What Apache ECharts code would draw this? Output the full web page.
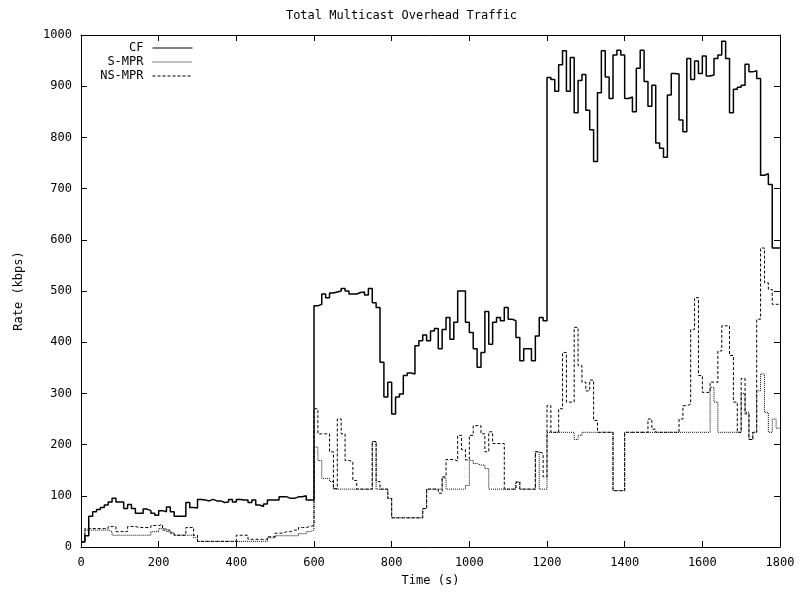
<!DOCTYPE html>
<html>
<head>
<meta charset="utf-8">
<script src="https://cdn.jsdelivr.net/npm/echarts@6/dist/echarts.min.js"></script>
<style>
  html, body { margin: 0; padding: 0; background: #fff; }
  #chart { width: 803px; height: 592px; }
</style>
</head>
<body>
<div id="chart"></div>
<script>
// Sampling interval of the traffic traces, in seconds
const sampleStep = 10;
const xTicks = [0, 200, 400, 600, 800, 1000, 1200, 1400, 1600, 1800];
const yTicks = [0, 100, 200, 300, 400, 500, 600, 700, 800, 900, 1000];

// Overhead rate (kbps) for each 10 s interval, 0..1790 s
const cfRate = [
  10, 22, 60, 69, 73, 77, 82, 88, 95, 88,
  88, 75, 83, 75, 66, 66, 74, 71, 66, 62,
  71, 69, 78, 69, 60, 60, 60, 87, 77, 76,
  93, 92, 90, 93, 90, 90, 87, 88, 93, 88,
  93, 92, 92, 87, 92, 82, 79, 84, 92, 92,
  92, 98, 98, 95, 95, 98, 98, 100, 92, 92,
  471, 474, 494, 487, 496, 498, 500, 505, 500, 494,
  494, 497, 498, 492, 505, 477, 468, 361, 293, 322,
  260, 293, 299, 335, 340, 338, 393, 403, 414, 403,
  422, 427, 387, 425, 448, 406, 439, 500, 500, 439,
  419, 387, 351, 380, 460, 396, 439, 448, 442, 468,
  445, 442, 409, 364, 387, 387, 364, 412, 448, 442,
  917, 913, 890, 942, 969, 890, 956, 848, 911, 923,
  853, 815, 753, 887, 969, 918, 876, 961, 970, 961,
  876, 879, 850, 935, 970, 909, 861, 902, 789, 779,
  761, 883, 925, 924, 834, 811, 954, 913, 949, 925,
  959, 920, 922, 954, 961, 988, 954, 848, 894, 898,
  902, 943, 928, 930, 915, 726, 729, 708, 584, 584
];

const smprRate = [
  10, 33, 33, 33, 33, 33, 33, 30, 23, 23,
  23, 23, 23, 23, 23, 23, 23, 23, 30, 30,
  36, 36, 30, 27, 23, 23, 23, 23, 23, 18,
  11, 11, 11, 11, 11, 11, 11, 11, 11, 11,
  11, 11, 11, 11, 11, 11, 11, 11, 18, 18,
  22, 22, 22, 22, 22, 22, 26, 26, 30, 33,
  195, 169, 134, 134, 128, 113, 113, 113, 113, 113,
  113, 113, 113, 113, 113, 206, 113, 113, 113, 95,
  57, 57, 57, 57, 57, 57, 57, 57, 75, 113,
  113, 113, 113, 135, 113, 113, 113, 113, 113, 120,
  169, 163, 160, 160, 153, 113, 113, 113, 113, 113,
  113, 113, 127, 113, 113, 113, 113, 186, 113, 113,
  224, 224, 224, 224, 224, 224, 224, 210, 218, 224,
  224, 224, 224, 224, 224, 224, 224, 110, 110, 110,
  224, 224, 224, 224, 224, 224, 224, 224, 224, 224,
  224, 224, 224, 224, 224, 224, 224, 224, 224, 224,
  224, 224, 312, 283, 224, 224, 224, 224, 224, 224,
  300, 263, 210, 224, 305, 338, 263, 224, 250, 232
];

const nsmprRate = [
  10, 36, 36, 36, 36, 36, 36, 40, 40, 30,
  30, 30, 40, 40, 38, 38, 38, 38, 42, 42,
  44, 33, 33, 27, 23, 23, 23, 38, 38, 23,
  11, 11, 11, 11, 11, 11, 11, 11, 11, 11,
  23, 23, 23, 15, 15, 15, 15, 15, 20, 20,
  27, 27, 30, 30, 33, 33, 38, 38, 40, 42,
  270, 221, 221, 221, 186, 114, 250, 221, 169, 167,
  130, 113, 113, 113, 113, 206, 128, 113, 113, 95,
  57, 57, 57, 57, 57, 57, 57, 57, 75, 113,
  113, 113, 105, 137, 171, 171, 168, 218, 190, 170,
  218, 237, 237, 221, 186, 225, 202, 202, 202, 113,
  113, 113, 127, 113, 113, 113, 113, 186, 183, 137,
  276, 224, 224, 270, 380, 283, 283, 429, 354, 322,
  305, 326, 247, 224, 224, 224, 224, 110, 110, 110,
  224, 224, 224, 224, 224, 224, 250, 230, 224, 224,
  224, 224, 224, 224, 250, 276, 279, 425, 487, 335,
  302, 302, 322, 322, 383, 432, 432, 374, 283, 224,
  329, 260, 210, 224, 445, 584, 516, 503, 474, 474
];

// Each value holds from its start time until the next sample; close the last interval at the end time
function toSteps(values) {
  const pts = values.map((v, i) => [i * sampleStep, v]);
  pts.push([values.length * sampleStep, values[values.length - 1]]);
  return pts;
}

const FONT = 'DejaVu Sans Mono';
const textStyle = { fontFamily: FONT, fontSize: 12, color: '#000' };
const plainNumber = v => String(v);

const xRange = { min: xTicks[0], max: xTicks[xTicks.length - 1], interval: xTicks[1] - xTicks[0] };
const yRange = { min: yTicks[0], max: yTicks[yTicks.length - 1], interval: yTicks[1] - yTicks[0] };

const chart = echarts.init(document.getElementById('chart'), null, { renderer: 'canvas' });

function axisCommon(extra) {
  return Object.assign({
    type: 'value',
    axisLine: { show: true, onZero: false, lineStyle: { color: '#000', width: 1 } },
    axisTick: { show: true, inside: true, length: 6, lineStyle: { color: '#000' } },
    splitLine: { show: false },
    axisLabel: Object.assign({}, textStyle)
  }, extra);
}

// One legend block per series so the line samples stay right-aligned
function legendFor(name, top) {
  return {
    data: [name],
    right: 803 - 193,
    top: top,
    align: 'right',
    orient: 'vertical',
    itemWidth: 40,
    itemHeight: 10,
    itemGap: 0,
    padding: 0,
    selectedMode: false,
    itemStyle: { opacity: 0 },
    lineStyle: { width: 1 },
    textStyle: Object.assign({}, textStyle, { padding: [0, 4, 0, 0] })
  };
}

chart.setOption({
  animation: false,
  backgroundColor: '#fff',
  title: {
    text: 'Total Multicast Overhead Traffic',
    left: 'center',
    top: 5,
    textStyle: Object.assign({}, textStyle, { fontWeight: 'normal' })
  },
  legend: [legendFor('CF', 42), legendFor('S-MPR', 56), legendFor('NS-MPR', 70)],
  grid: { left: 81, right: 23, top: 35, bottom: 45, containLabel: false },
  xAxis: [
    axisCommon(Object.assign({}, xRange, {
      position: 'bottom',
      name: 'Time (s)', nameLocation: 'middle', nameGap: 28,
      nameTextStyle: Object.assign({}, textStyle),
      axisLabel: Object.assign({}, textStyle, { margin: 10, formatter: plainNumber })
    })),
    axisCommon(Object.assign({}, xRange, {
      position: 'top',
      axisLabel: { show: false }
    }))
  ],
  yAxis: [
    axisCommon(Object.assign({}, yRange, {
      position: 'left',
      name: 'Rate (kbps)', nameLocation: 'middle', nameGap: 56, nameRotate: 90,
      nameTextStyle: Object.assign({}, textStyle),
      axisLabel: Object.assign({}, textStyle, { margin: 9, formatter: plainNumber })
    })),
    axisCommon(Object.assign({}, yRange, {
      position: 'right',
      axisLabel: { show: false }
    }))
  ],
  series: [
    {
      name: 'CF', type: 'line', step: 'end', symbol: 'none',
      xAxisIndex: 0, yAxisIndex: 0,
      lineStyle: { color: '#000', width: 1.5, type: 'solid' },
      itemStyle: { color: '#000' },
      data: toSteps(cfRate), z: 3
    },
    {
      name: 'S-MPR', type: 'line', step: 'end', symbol: 'none',
      xAxisIndex: 0, yAxisIndex: 0,
      lineStyle: { color: '#000', width: 1, type: [1, 1] },
      itemStyle: { color: '#000' },
      data: toSteps(smprRate), z: 2
    },
    {
      name: 'NS-MPR', type: 'line', step: 'end', symbol: 'none',
      xAxisIndex: 0, yAxisIndex: 0,
      lineStyle: { color: '#000', width: 1, type: [3, 2] },
      itemStyle: { color: '#000' },
      data: toSteps(nsmprRate), z: 2
    }
  ]
});
</script>
</body>
</html>
